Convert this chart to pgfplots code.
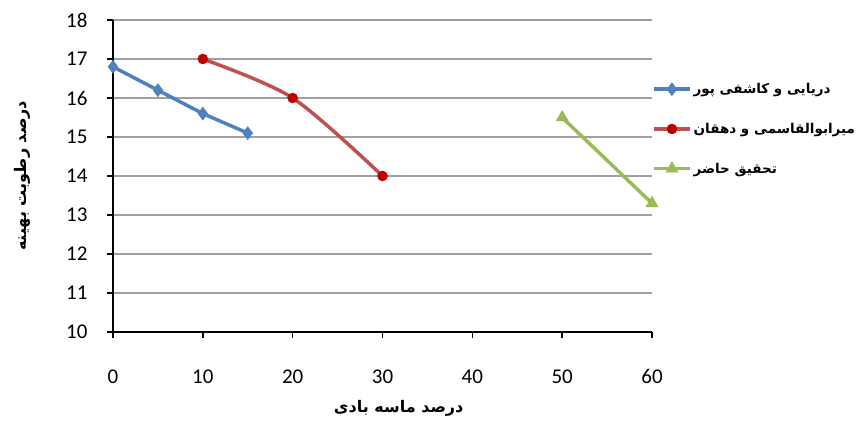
\documentclass[border=0pt]{standalone}
\usepackage{fontspec}
\usepackage{pgfplots}
\pgfplotsset{compat=1.18}
\setmainfont{Carlito}
\newfontfamily\arabicfont[Script=Arabic]{DejaVu Sans}
\TeXXeTstate=1
\definecolor{sblue}{HTML}{4F81BD}
\definecolor{sred}{HTML}{C0504D}
\definecolor{mred}{HTML}{C00000}
\definecolor{sgreen}{HTML}{9BBB59}
\definecolor{gridgray}{HTML}{A0A0A0}

\begin{document}
\begin{tikzpicture}[x=1pt,y=1pt]
\useasboundingbox (0,0) rectangle (868,422);
\begin{axis}[
  at={(113pt,90pt)}, anchor=south west,
  scale only axis,
  width=539pt, height=312pt,
  xmin=0, xmax=60, ymin=10, ymax=18,
  xtick={0,10,...,60}, ytick={10,11,...,18},
  axis x line=bottom, axis y line=left,
  axis line style={-, black, line width=1.6pt},
  tick align=outside, major tick length=6pt,
  tick style={black, line width=1.4pt},
  ymajorgrids, grid style={gridgray, line width=1.2pt},
  ticklabel style={font=\fontsize{21}{21}\selectfont},
  /pgf/number format/assume math mode=true,
  xticklabel style={yshift=-28pt},
  yticklabel style={xshift=-16pt},
  xlabel={\arabicfont\bfseries\beginR درصد ماسه بادی\endR},
  ylabel={\arabicfont\bfseries\beginR درصد رطوبت بهینه\endR},
  label style={font=\fontsize{16}{16}\selectfont},
  xlabel style={at={(axis description cs:0.53,-0.245)}, anchor=center},
  ylabel style={at={(axis description cs:-0.169,0.5)}, anchor=center},
  legend style={at={(1.0,0.804)}, anchor=north west, draw=none, fill=none,
    font=\fontsize{13.5}{13.5}\selectfont\bfseries, row sep=24pt, inner sep=0pt,
    cells={anchor=west, inner xsep=3pt}},
  legend cell align=left,
  legend image code/.code={
    \draw[mark repeat=2, mark phase=2] plot coordinates {(0pt,0pt) (18pt,0pt) (36pt,0pt)};
  },
]
\addplot[sblue, line width=3.5pt, mark=diamond*, mark size=6.5pt,
  mark options={fill=sblue, draw=sblue, line width=0.5pt}]
  coordinates {(0,16.8) (5,16.2) (10,15.6) (15,15.1)};
\addplot[sred, line width=3.5pt, smooth, mark=*, mark size=5pt,
  mark options={fill=mred, draw=mred, line width=0.5pt}]
  coordinates {(10,17.0) (20,16.0) (30,14.0)};
\addplot[sgreen, line width=3.5pt, mark=triangle*, mark size=7pt,
  mark options={fill=sgreen, draw=sgreen, line width=0.5pt}]
  coordinates {(50,15.5) (60,13.3)};
\legend{{\arabicfont\beginR دریایی و کاشفی پور\endR},
  {\arabicfont\beginR میرابوالقاسمی و دهقان\endR},
  {\arabicfont\beginR تحقیق حاضر\endR}}
\end{axis}
\end{tikzpicture}
\end{document}
